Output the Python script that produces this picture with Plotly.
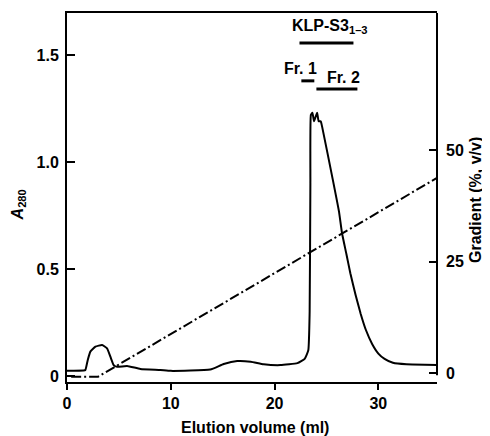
import plotly.graph_objects as go

# Absorbance at 280 nm (left axis)
elution_ml = [0.0, 1.6, 1.77, 2.0, 2.25, 2.74, 3.38, 3.86, 4.18, 4.5, 4.83, 5.79, 7.07, 9.0,
              10.0, 13.8, 15.1, 16.4, 17.7, 18.95, 20.56, 22.2, 22.9, 23.25, 23.38, 23.45,
              23.5, 23.65, 23.8, 23.95, 24.1, 24.25, 24.45, 24.58, 25.6, 26.2, 26.5, 26.92,
              27.3, 27.8, 28.3, 28.8, 29.4, 30.0, 30.6, 31.4, 32.7, 35.65]
a280 = [0.025, 0.026, 0.028, 0.075, 0.114, 0.137, 0.145, 0.129, 0.09, 0.051, 0.043, 0.047, 0.033, 0.028,
        0.024, 0.03, 0.056, 0.07, 0.067, 0.055, 0.051, 0.06, 0.08, 0.12, 0.3, 0.9,
        1.22, 1.23, 1.19, 1.21, 1.23, 1.19, 1.19, 1.165, 0.92, 0.77, 0.667, 0.57,
        0.48, 0.38, 0.29, 0.215, 0.15, 0.105, 0.08, 0.062, 0.055, 0.052]

# Gradient (right axis)
gradient_ml = [0.4, 3.0, 35.65]
gradient_pct = [-0.8, -0.8, 43.8]

# Pooled fractions
frac_labels = ["KLP-S3<sub>1–3</sub>", "Fr. 1", "Fr. 2"]
frac_start = [22.4, 22.58, 24.03]
frac_end = [27.6, 23.83, 27.98]
frac_level = [1.556, 1.379, 1.341]
frac_label_x = [21.52, 20.75, 24.9]
frac_label_y = [1.631, 1.435, 1.397]

x_ticks = [0, 10, 20, 30]
y_ticks = [0, 0.5, 1.0, 1.5]
y_ticktext = ["0", "0.5", "1.0", "1.5"]
y2_ticks = [0, 25, 50]

FONT = dict(family="Liberation Sans, Arial, sans-serif", size=16, color="black", weight="bold")

fig = go.Figure()
fig.add_trace(go.Scatter(x=elution_ml, y=a280, mode="lines",
                         line=dict(color="black", width=2, shape="spline", smoothing=0.4),
                         showlegend=False, hoverinfo="skip"))
fig.add_trace(go.Scatter(x=gradient_ml, y=gradient_pct, mode="lines", yaxis="y2",
                         line=dict(color="black", width=2, dash="10px,3px,2px,3px"),
                         showlegend=False, hoverinfo="skip"))
for s, e, lv in zip(frac_start, frac_end, frac_level):
    fig.add_trace(go.Scatter(x=[s, e], y=[lv, lv], mode="lines",
                             line=dict(color="black", width=3),
                             showlegend=False, hoverinfo="skip"))

annotations = []
for t, x, y in zip(frac_labels, frac_label_x, frac_label_y):
    annotations.append(dict(text=t, x=x, y=y, xref="x", yref="y", xanchor="left",
                            yanchor="middle", showarrow=False, font=FONT))
annotations.append(dict(text="<i>A</i><sub>280</sub>", x=-0.131, y=0.48, xref="paper",
                        yref="paper", textangle=-90, showarrow=False, font=FONT,
                        xanchor="center", yanchor="middle"))
annotations.append(dict(text="Gradient (%, v/v)", x=1.1025, y=0.493, xref="paper",
                        yref="paper", textangle=-90, showarrow=False, font=FONT,
                        xanchor="center", yanchor="middle"))
annotations.append(dict(text="Elution volume (ml)", x=0.508, y=-0.122, xref="paper",
                        yref="paper", showarrow=False, font=FONT,
                        xanchor="center", yanchor="middle"))

# the page body adds an 8px offset, so the figure is 8px smaller on each axis
fig.update_layout(
    width=482, height=428,
    margin=dict(l=59, r=53, t=5, b=54, autoexpand=False),
    paper_bgcolor="white", plot_bgcolor="white",
    font=FONT,
    xaxis=dict(range=[0, 35.65], showline=True, linewidth=2, linecolor="black", mirror=True,
               ticks="outside", ticklen=6, tickwidth=2, tickcolor="black",
               tickvals=x_ticks, showgrid=False, zeroline=False, tickfont=FONT),
    yaxis=dict(range=[-0.028, 1.696], showline=True, linewidth=2, linecolor="black",
               ticks="inside", ticklen=8, tickwidth=2, tickcolor="black",
               tickvals=y_ticks, ticktext=y_ticktext, showgrid=False, zeroline=False,
               tickfont=FONT, ticklabelstandoff=3),
    yaxis2=dict(range=[-2.0, 80.8], overlaying="y", side="right", showline=False,
                ticks="inside", ticklen=8, tickwidth=2, tickcolor="black",
                tickvals=y2_ticks, showgrid=False, zeroline=False, tickfont=FONT,
                ticklabelstandoff=8),
    annotations=annotations,
    shapes=[dict(type="line", xref="paper", yref="y2", x0=1, x1=1, y0=-0.5, y1=80.8,
                 line=dict(color="black", width=2))],
)

fig.write_html("out.html")
